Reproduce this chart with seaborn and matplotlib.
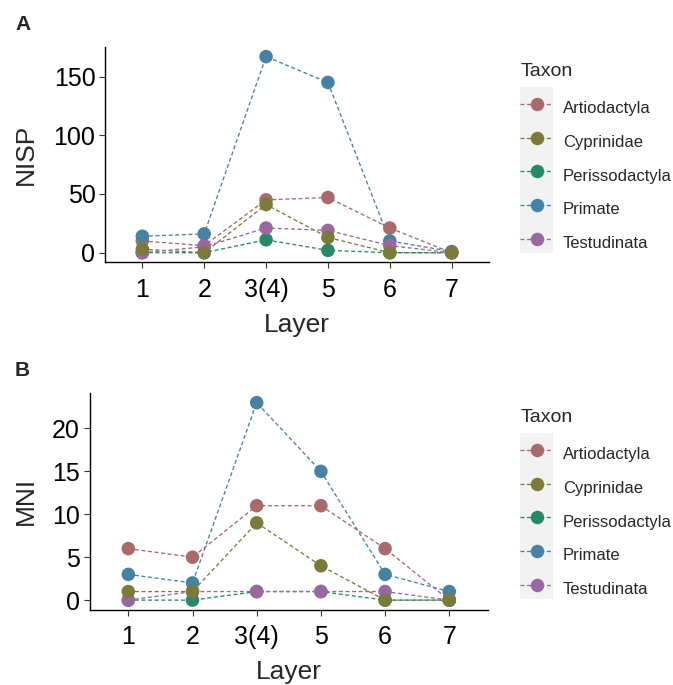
import pandas as pd
import numpy as np
import matplotlib
matplotlib.use('Agg')
import matplotlib.pyplot as plt
from matplotlib.lines import Line2D
from matplotlib.patches import Rectangle
import seaborn as sns

# datos
layers = ['1', '2', '3(4)', '5', '6', '7']
taxa = ['Artiodactyla', 'Cyprinidae', 'Perissodactyla', 'Primate', 'Testudinata']

nisp_artiodactyla = [10, 6, 45, 47, 21, 0]
nisp_cyprinidae = [3, 0, 41, 13, 0, 0]
nisp_perissodactyla = [0, 0, 11, 2, 0, 0]
nisp_primate = [14, 16, 167, 145, 10, 1]
nisp_testudinata = [0, 5, 21, 19, 6, 0]

mni_artiodactyla = [6, 5, 11, 11, 6, 0]
mni_cyprinidae = [1, 1, 9, 4, 0, 0]
mni_perissodactyla = [0, 0, 1, 1, 0, 0]
mni_primate = [3, 2, 23, 15, 3, 1]
mni_testudinata = [0, 1, 1, 1, 1, 0]

colores = {
    'Artiodactyla': '#A86A6A',
    'Cyprinidae': '#7C7A3A',
    'Perissodactyla': '#26896A',
    'Primate': '#4682A1',
    'Testudinata': '#9A68A1',
}

# orden en que se pintan los puntos (el ultimo queda encima)
orden_puntos = ['Artiodactyla', 'Perissodactyla', 'Primate', 'Testudinata', 'Cyprinidae']

nisp = {'Artiodactyla': nisp_artiodactyla, 'Cyprinidae': nisp_cyprinidae,
        'Perissodactyla': nisp_perissodactyla, 'Primate': nisp_primate,
        'Testudinata': nisp_testudinata}
mni = {'Artiodactyla': mni_artiodactyla, 'Cyprinidae': mni_cyprinidae,
       'Perissodactyla': mni_perissodactyla, 'Primate': mni_primate,
       'Testudinata': mni_testudinata}


def tabla(valores, nombre):
    filas = []
    for t in taxa:
        for l, v in zip(layers, valores[t]):
            filas.append({'Layer': l, 'Taxon': t, nombre: v})
    return pd.DataFrame(filas)


df_nisp = tabla(nisp, 'NISP')
df_mni = tabla(mni, 'MNI')

sns.set_style('ticks')
plt.rcParams['font.family'] = ['Liberation Sans', 'DejaVu Sans']

fig = plt.figure(figsize=(6.73, 6.85), dpi=100)
W, H = 673, 685

# posiciones de los ejes en pixeles (izq, arriba, der, abajo)
cajas = {
    'NISP': (105.2, 46.8, 488.8, 262.5),
    'MNI': (89.8, 392.8, 487.8, 610.0),
}


def panel(df, var, caja, ylim, yticks, letra, y_letra, y_leg, y_tit, x_ylabel):
    l, t, r, b = caja
    ax = fig.add_axes([l / W, 1 - b / H, (r - l) / W, (b - t) / H])

    sns.lineplot(data=df, x='Layer', y=var, hue='Taxon', hue_order=taxa,
                 palette=colores, linestyle=(0, (3, 2)), linewidth=0.95,
                 legend=False, ax=ax)

    df_p = pd.concat([df[df['Taxon'] == t] for t in orden_puntos])
    sns.scatterplot(data=df_p, x='Layer', y=var, hue='Taxon', palette=colores,
                    s=95, linewidth=0, alpha=1, legend=False, ax=ax, zorder=3)

    ax.set_xlim(-0.6, 5.6)
    ax.set_ylim(*ylim)
    ax.set_yticks(yticks)
    sns.despine(ax=ax)
    for s in ['left', 'bottom']:
        ax.spines[s].set_color('black')
        ax.spines[s].set_linewidth(1.0)
    ax.tick_params(axis='both', labelsize=18, length=4, width=0.8,
                   color='#333333', labelcolor='black', pad=3)
    ax.tick_params(axis='x', pad=7)
    ax.set_xlabel('Layer', fontsize=19, labelpad=8)
    ax.set_ylabel(var, fontsize=19)
    ax.yaxis.set_label_coords(x_ylabel, 0.5)

    fig.text(15 / W, 1 - y_letra / H, letra, fontsize=15, fontweight='bold',
             va='baseline', ha='left')

    # leyenda
    fig.patches.append(Rectangle((520 / W, 1 - (y_leg + 166) / H), 33 / W, 166 / H,
                                 transform=fig.transFigure, facecolor='#F2F2F2',
                                 edgecolor='none', zorder=1))
    fig.text(521 / W, 1 - y_tit / H, 'Taxon', fontsize=14, va='baseline', ha='left')
    handles = [Line2D([], [], color=colores[t], linestyle=(0, (3, 2)), linewidth=0.95,
                      marker='o', markersize=9.7, markeredgewidth=0) for t in taxa]
    fig.legend(handles, taxa, loc='upper left',
               bbox_to_anchor=(520 / W, 1 - (y_leg + 8) / H),
               frameon=False, fontsize=12, handlelength=1.98, handleheight=2.0,
               labelspacing=0.475, handletextpad=0.6, borderpad=0, borderaxespad=0)
    return ax


ax1 = panel(df_nisp, 'NISP', cajas['NISP'], (-8.35, 175.35), [0, 50, 100, 150],
            'A', 30, 87, 76, -0.175)
ax2 = panel(df_mni, 'MNI', cajas['MNI'], (-1.15, 24.15), [0, 5, 10, 15, 20],
            'B', 376, 433, 422, -0.130)

fig.savefig('out.png', dpi=100)
